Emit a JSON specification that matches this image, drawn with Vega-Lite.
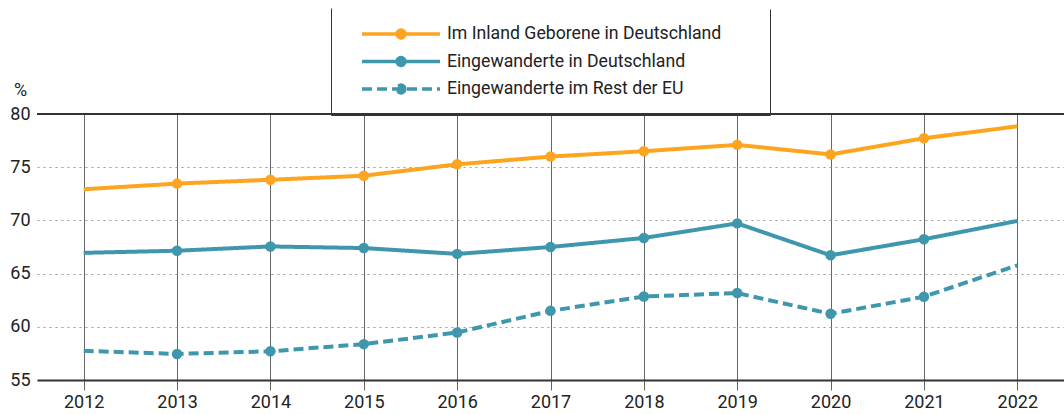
{
  "$schema": "https://vega.github.io/schema/vega-lite/v6.json",
  "width": 1027,
  "height": 266,
  "autosize": {"type": "none"},
  "padding": {"left": 37, "top": 114, "right": 0, "bottom": 34},
  "background": "white",
  "config": {
    "view": {"stroke": null},
    "font": "Roboto",
    "legend": {
      "orient": "none",
      "legendX": 294,
      "legendY": -106,
      "symbolType": "M-1,0H1M0.1,0A0.1,0.1,0,1,1,-0.1,0A0.1,0.1,0,1,1,0.1,0Z",
      "symbolSize": 6084,
      "symbolStrokeWidth": 3.5,
      "clipHeight": 20,
      "labelFont": "Roboto",
      "labelFontSize": 17.7,
      "labelColor": "#222",
      "labelOffset": 5,
      "labelLimit": 600,
      "rowPadding": 7.5,
      "padding": 16,
      "symbolOffset": 13,
      "strokeColor": "#333"
    }
  },
  "data": {
    "values": [
      {"year": 2012, "series": "Im Inland Geborene in Deutschland", "value": 72.93},
      {"year": 2013, "series": "Im Inland Geborene in Deutschland", "value": 73.46},
      {"year": 2014, "series": "Im Inland Geborene in Deutschland", "value": 73.82},
      {"year": 2015, "series": "Im Inland Geborene in Deutschland", "value": 74.2},
      {"year": 2016, "series": "Im Inland Geborene in Deutschland", "value": 75.27},
      {"year": 2017, "series": "Im Inland Geborene in Deutschland", "value": 76.0},
      {"year": 2018, "series": "Im Inland Geborene in Deutschland", "value": 76.5},
      {"year": 2019, "series": "Im Inland Geborene in Deutschland", "value": 77.1},
      {"year": 2020, "series": "Im Inland Geborene in Deutschland", "value": 76.2},
      {"year": 2021, "series": "Im Inland Geborene in Deutschland", "value": 77.72},
      {"year": 2022, "series": "Im Inland Geborene in Deutschland", "value": 78.84},
      {"year": 2012, "series": "Eingewanderte in Deutschland", "value": 66.95},
      {"year": 2013, "series": "Eingewanderte in Deutschland", "value": 67.15},
      {"year": 2014, "series": "Eingewanderte in Deutschland", "value": 67.55},
      {"year": 2015, "series": "Eingewanderte in Deutschland", "value": 67.4},
      {"year": 2016, "series": "Eingewanderte in Deutschland", "value": 66.85},
      {"year": 2017, "series": "Eingewanderte in Deutschland", "value": 67.5},
      {"year": 2018, "series": "Eingewanderte in Deutschland", "value": 68.35},
      {"year": 2019, "series": "Eingewanderte in Deutschland", "value": 69.72},
      {"year": 2020, "series": "Eingewanderte in Deutschland", "value": 66.72},
      {"year": 2021, "series": "Eingewanderte in Deutschland", "value": 68.23},
      {"year": 2022, "series": "Eingewanderte in Deutschland", "value": 69.95},
      {"year": 2012, "series": "Eingewanderte im Rest der EU", "value": 57.74},
      {"year": 2013, "series": "Eingewanderte im Rest der EU", "value": 57.45},
      {"year": 2014, "series": "Eingewanderte im Rest der EU", "value": 57.7},
      {"year": 2015, "series": "Eingewanderte im Rest der EU", "value": 58.37},
      {"year": 2016, "series": "Eingewanderte im Rest der EU", "value": 59.46},
      {"year": 2017, "series": "Eingewanderte im Rest der EU", "value": 61.5},
      {"year": 2018, "series": "Eingewanderte im Rest der EU", "value": 62.85},
      {"year": 2019, "series": "Eingewanderte im Rest der EU", "value": 63.17},
      {"year": 2020, "series": "Eingewanderte im Rest der EU", "value": 61.22},
      {"year": 2021, "series": "Eingewanderte im Rest der EU", "value": 62.83},
      {"year": 2022, "series": "Eingewanderte im Rest der EU", "value": 65.78}
    ]
  },
  "encoding": {
    "x": {
      "field": "year",
      "type": "quantitative",
      "scale": {"domain": [2011.5, 2022.5], "nice": false, "zero": false},
      "axis": {
        "title": null,
        "values": [2012, 2013, 2014, 2015, 2016, 2017, 2018, 2019, 2020, 2021, 2022],
        "format": "d",
        "grid": true,
        "gridColor": "#666",
        "gridWidth": 1,
        "gridOpacity": 1,
        "tickColor": "#666",
        "tickSize": 10,
        "tickWidth": 1,
        "domain": true,
        "domainColor": "#333",
        "domainWidth": 2,
        "labelFont": "Roboto",
        "labelFontSize": 18,
        "labelColor": "#222",
        "labelPadding": 3
      }
    },
    "y": {
      "field": "value",
      "type": "quantitative",
      "scale": {"domain": [55, 80], "nice": false, "zero": false},
      "axis": {
        "title": "%",
        "titleAngle": 0,
        "titleX": -17,
        "titleY": -19,
        "titleAlign": "center",
        "titleBaseline": "alphabetic",
        "titleFont": "Roboto",
        "titleFontSize": 18,
        "titleFontWeight": "normal",
        "titleColor": "#222",
        "values": [55, 60, 65, 70, 75, 80],
        "grid": true,
        "gridDash": [2, 4],
        "gridColor": "#999",
        "gridWidth": 1,
        "ticks": false,
        "domain": false,
        "labelFont": "Roboto",
        "labelFontSize": 18,
        "labelColor": "#222",
        "labelPadding": 7
      }
    }
  },
  "layer": [
    {
      "mark": {"type": "rule", "color": "#333", "strokeWidth": 2},
      "encoding": {"x": null, "y": {"datum": 80, "type": "quantitative"}}
    },
    {
      "mark": {"type": "line", "strokeWidth": 4, "strokeJoin": "round"},
      "encoding": {
        "color": {
          "field": "series",
          "type": "nominal",
          "scale": {
            "domain": ["Im Inland Geborene in Deutschland", "Eingewanderte in Deutschland", "Eingewanderte im Rest der EU"],
            "range": ["#FDA521", "#3F97AD", "#3F97AD"]
          },
          "legend": {
            "title": null,
            "encode": {
              "symbols": {"update": {"fill": {"scale": "color", "field": "value"}, "stroke": {"scale": "color", "field": "value"}}},
              "entries": {"update": {"width": {"value": 407}}},
              "legend": {"update": {"strokeDash": {"value": [0, 440, 2000, 0]}}}
            }
          }
        },
        "strokeDash": {
          "field": "series",
          "type": "nominal",
          "scale": {
            "domain": ["Im Inland Geborene in Deutschland", "Eingewanderte in Deutschland", "Eingewanderte im Rest der EU"],
            "range": [[1, 0], [1, 0], [10, 5]]
          },
          "legend": {"title": null}
        }
      }
    },
    {
      "transform": [{"filter": "datum.year >= 2013 && datum.year <= 2021"}],
      "mark": {"type": "circle", "size": 110, "opacity": 1},
      "encoding": {
        "color": {"field": "series", "type": "nominal"}
      }
    }
  ]
}
